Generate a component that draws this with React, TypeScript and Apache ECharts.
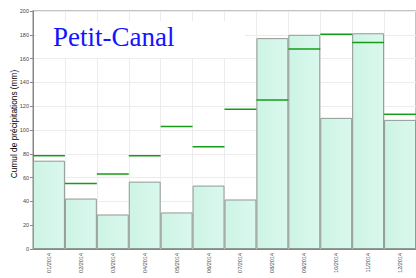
import React, { useEffect, useRef } from "react";
import * as echarts from "echarts";

const months = ["01/2014", "02/2014", "03/2014", "04/2014", "05/2014", "06/2014", "07/2014", "08/2014", "09/2014", "10/2014", "11/2014", "12/2014"];
const rainfall = [74.2, 42.4, 29, 56.6, 30.7, 53.3, 41.6, 177.2, 180, 110.2, 181.3, 108.5];
const normals = [78.4, 55, 63, 78.4, 103, 86, 117.4, 125.3, 168, 180.5, 173.5, 113.2];
const yTicks = [0, 20, 40, 60, 80, 100, 120, 140, 160, 180, 200];

export default function App() {
  const ref = useRef<HTMLDivElement>(null);
  useEffect(() => {
    if (!ref.current) return;
    const chart = echarts.init(ref.current, null, { renderer: "svg" });
    const font = "Liberation Sans";
    chart.setOption({
      animation: false,
      grid: {
        left: 33,
        top: 11,
        width: 387,
        height: 238,
        show: true,
        borderColor: "#b0b0b0",
        borderWidth: 1.5,
        backgroundColor: "transparent",
      },
      xAxis: {
        type: "category",
        data: months,
        boundaryGap: true,
        axisLine: { lineStyle: { color: "#888", width: 1 } },
        axisTick: { show: false },
        splitLine: { show: true, lineStyle: { color: "#ececec", width: 1 } },
        axisLabel: { rotate: 90, fontSize: 5.5, color: "#444", margin: 4, fontFamily: font },
      },
      yAxis: {
        type: "value",
        min: yTicks[0],
        max: yTicks[yTicks.length - 1],
        interval: 20,
        axisLine: { show: true, lineStyle: { color: "#888", width: 1 } },
        axisTick: { show: true, length: 3, lineStyle: { color: "#888" } },
        splitLine: { show: true, lineStyle: { color: "#ececec", width: 1 } },
        axisLabel: { fontSize: 5.5, color: "#444", margin: 4, fontFamily: font },
      },
      graphic: [
        {
          type: "rect",
          z: 1,
          shape: { x: 36, y: 21, width: 209, height: 37 },
          style: { fill: "#ffffff" },
        },
        {
          type: "text",
          z: 2,
          x: 53,
          y: 50,
          style: {
            text: "Petit-Canal",
            fill: "#1414ff",
            fontSize: 27,
            fontFamily: "'Times New Roman', 'Liberation Serif', 'DejaVu Serif', Times, serif",
            verticalAlign: "bottom",
          },
        },
        {
          type: "text",
          x: 13.5,
          y: 124,
          rotation: Math.PI / 2,
          style: {
            text: "Cumul de précipitations (mm)",
            fill: "#000",
            fontFamily: font,
            fontSize: 8.3,
            align: "center",
            verticalAlign: "middle",
          },
        },
      ],
      series: [
        {
          type: "bar",
          data: rainfall,
          barCategoryGap: "0%",
          z: 3,
          itemStyle: {
            color: new echarts.graphic.LinearGradient(0, 0, 1, 0, [
              { offset: 0, color: "#cdf4e4" },
              { offset: 1, color: "#dbf8ee" },
            ]),
            borderColor: "#8f9995",
            borderWidth: 1,
          },
        },
        {
          type: "custom",
          z: 4,
          data: normals.map((v, i) => [i, v]),
          renderItem: (params: any, api: any) => {
            const p = api.coord([api.value(0), api.value(1)]);
            const w = api.size([1, 0])[0];
            return {
              type: "line",
              shape: { x1: p[0] - w / 2, y1: p[1], x2: p[0] + w / 2, y2: p[1] },
              style: { stroke: "#169c16", lineWidth: 1.5 },
            };
          },
        },
      ],
    });
    return () => chart.dispose();
  }, []);
  return (
    <div
      ref={ref}
      style={{ position: "fixed", left: 0, top: 0, width: 416, height: 278, background: "#fff" }}
    />
  );
}
